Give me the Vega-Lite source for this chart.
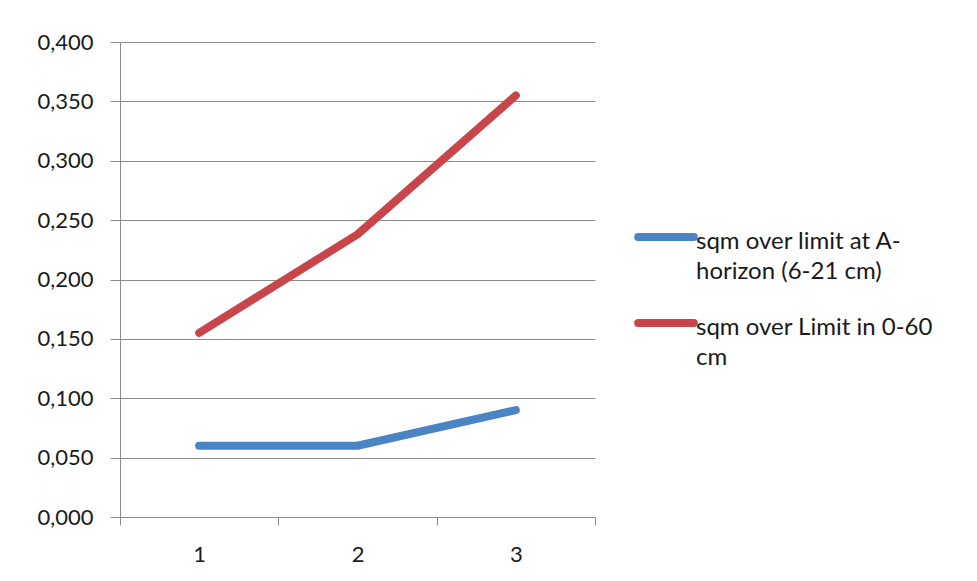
{
  "$schema": "https://vega.github.io/schema/vega-lite/v6.json",
  "width": 475,
  "height": 475,
  "autosize": {"type": "none"},
  "padding": {"left": 120, "top": 42, "right": 382, "bottom": 64},
  "background": "white",
  "config": {
    "view": {"stroke": null},
    "font": "Lato",
    "axis": {
      "labelFont": "Lato",
      "labelFontSize": 22,
      "labelColor": "#1a1a1a",
      "domainColor": "#8c8c8c",
      "tickColor": "#8c8c8c",
      "gridColor": "#8c8c8c",
      "title": null
    }
  },
  "data": {
    "values": [
      {"x": 1, "value": 0.060, "series": "A-horizon"},
      {"x": 2, "value": 0.060, "series": "A-horizon"},
      {"x": 3, "value": 0.090, "series": "A-horizon"},
      {"x": 1, "value": 0.155, "series": "0-60"},
      {"x": 2, "value": 0.238, "series": "0-60"},
      {"x": 3, "value": 0.355, "series": "0-60"}
    ]
  },
  "mark": {"type": "line", "strokeWidth": 8, "strokeCap": "round", "strokeJoin": "round"},
  "encoding": {
    "x": {
      "field": "x",
      "type": "quantitative",
      "scale": {"domain": [0.5, 3.5], "nice": false, "zero": false},
      "axis": {
        "values": [0.5, 1, 1.5, 2, 2.5, 3, 3.5],
        "grid": false,
        "tickSize": 8,
        "labelPadding": 19,
        "labelFlush": false,
        "labelOverlap": false,
        "tickOpacity": {"condition": {"test": "datum.value % 1 === 0", "value": 0}, "value": 1},
        "labelExpr": "datum.value % 1 === 0 ? format(datum.value, 'd') : ''"
      }
    },
    "y": {
      "field": "value",
      "type": "quantitative",
      "scale": {"domain": [0, 0.4], "nice": false},
      "axis": {
        "values": [0, 0.05, 0.1, 0.15, 0.2, 0.25, 0.3, 0.35, 0.4],
        "grid": true,
        "tickSize": 10,
        "labelPadding": 17,
        "labelExpr": "replace(format(datum.value, '.3f'), '.', ',')"
      }
    },
    "color": {
      "field": "series",
      "type": "nominal",
      "sort": ["A-horizon", "0-60"],
      "scale": {"domain": ["A-horizon", "0-60"], "range": ["#4A84C4", "#C8454A"]},
      "legend": {
        "title": null,
        "orient": "none",
        "legendX": 514,
        "legendY": 163,
        "symbolType": "stroke",
        "symbolSize": 3100,
        "symbolStrokeWidth": 8,
        "labelFont": "Lato",
        "labelFontSize": 24,
        "labelColor": "#1a1a1a",
        "labelLimit": 400,
        "labelOffset": -2,
        "labelBaseline": "top",
        "rowPadding": 7,
        "labelExpr": "datum.label == 'A-horizon' ? ['sqm over limit at A-', 'horizon (6-21 cm)'] : ['sqm over Limit in 0-60', 'cm']",
        "encode": {
          "labels": {"update": {"lineHeight": {"value": 30}, "dy": {"value": -7}}},
          "symbols": {"update": {"strokeCap": {"value": "round"}}}
        }
      }
    }
  }
}
